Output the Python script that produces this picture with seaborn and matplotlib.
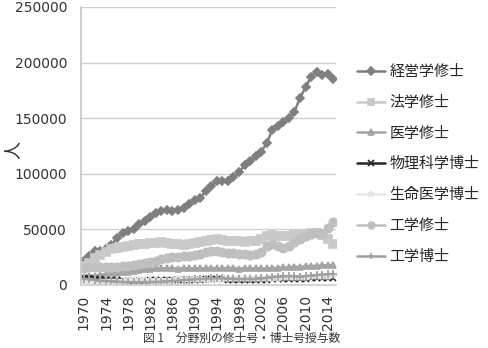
import matplotlib
matplotlib.use("Agg")
import matplotlib.pyplot as plt
import seaborn as sns
import pandas as pd

years = list(range(1970, 2016))

mba = [21325, 26490, 30509, 31007, 32820, 36315, 42510, 46505, 48484, 50484,
       55148, 57888, 61251, 64741, 66653, 67496, 66676, 67093, 69229, 73065,
       76676, 78255, 84517, 89425, 93285, 93540, 93554, 96923, 101652, 107477,
       111532, 115602, 119725, 127545, 139347, 142617, 146406, 150211, 155637, 168375,
       177684, 187213, 191571, 188625, 189328, 185222]
law = [17000, 20000, 24000, 27000, 30000, 32000, 33500, 34500, 35500, 36000,
       36500, 37000, 37500, 38000, 38500, 38000, 37000, 36500, 36000, 37000,
       38000, 39000, 40000, 40500, 41000, 40500, 40000, 40000, 39500, 39000,
       39500, 40000, 41000, 44000, 45000, 44500, 44000, 44500, 45000, 45500,
       46000, 46500, 47000, 45000, 41000, 37000]
med = [7500, 8000, 8500, 9000, 10000, 10500, 11000, 11500, 12000, 12500,
       13500, 14000, 14500, 15000, 15000, 15200, 15000, 14800, 15000, 15200,
       15000, 15000, 15200, 15300, 15000, 15000, 15200, 15000, 14800, 15000,
       15000, 15200, 15000, 15000, 15200, 15500, 15800, 16000, 16300, 16500,
       16800, 17000, 17300, 17600, 17800, 18000]
phys = [6500, 6000, 5500, 5000, 4600, 4300, 4100, 4000, 3900, 3900,
        4000, 4000, 4100, 4200, 4200, 4300, 4400, 4500, 4600, 4700,
        4800, 4900, 5000, 5100, 5100, 5000, 4900, 4800, 4700, 4600,
        4500, 4500, 4600, 4800, 5000, 5200, 5400, 5500, 5600, 5700,
        5800, 6000, 6200, 6300, 6500, 6700]
life = [3500, 3600, 3700, 3800, 3800, 3900, 4000, 4000, 4100, 4200,
        4300, 4400, 4500, 4600, 4700, 4800, 4900, 5000, 5100, 5200,
        5300, 5400, 5500, 5600, 5700, 5800, 5900, 6000, 6000, 6000,
        6100, 6200, 6300, 6400, 6500, 6600, 6800, 7000, 7200, 7400,
        7600, 7800, 8000, 8200, 8400, 8600]
eng_ms = [15500, 16000, 16500, 16500, 16000, 16000, 16500, 17000, 17500, 18000,
          19000, 20000, 21000, 22000, 23000, 24000, 25000, 25500, 26000, 26500,
          27000, 28000, 29500, 31000, 30500, 29500, 29000, 28500, 28000, 27500,
          27000, 28000, 30000, 35000, 37000, 35000, 33000, 35000, 39000, 41000,
          44000, 46000, 47000, 46000, 51000, 57000]
eng_phd = [5500, 5000, 4500, 4000, 3500, 3200, 3000, 2800, 2600, 2500,
           2500, 2600, 2700, 2800, 3000, 3300, 3600, 4000, 4500, 4900,
           5200, 5500, 5700, 5900, 6000, 6000, 5800, 5600, 5500, 5400,
           5500, 5600, 5900, 6400, 7000, 7500, 7800, 8000, 7800, 7600,
           8000, 8500, 9000, 9300, 9700, 10000]

series_names = ["経営学修士", "法学修士", "医学修士", "物理科学博士", "生命医学博士", "工学修士", "工学博士"]
series_values = [mba, law, med, phys, life, eng_ms, eng_phd]
colors = ["#7f7f7f", "#c9c9c9", "#a5a5a5", "#262626", "#e6e6e6", "#bfbfbf", "#a0a0a0"]
markers = ["D", "s", "^", "x", "*", "o", "+"]
msizes = [4.5, 6, 5, 5, 6, 6, 6]
xtick_years = list(range(1970, 2015, 4))

sns.set_theme(style="white")
plt.rcParams["font.family"] = ["Noto Sans CJK JP", "DejaVu Sans"]

fig = plt.figure(figsize=(4.89, 3.48), dpi=100)
ax = fig.add_axes([81 / 489, 63 / 348, 255 / 489, 278 / 348])

for name, vals, c, m, ms in zip(series_names, series_values, colors, markers, msizes):
    d = pd.DataFrame({"year": years, "value": vals})
    sns.lineplot(data=d, x="year", y="value", color=c, marker=m, markersize=ms,
                 markeredgecolor=c, markerfacecolor=c, markeredgewidth=1.2,
                 linewidth=1.8, label=name, ax=ax)

ax.set_xlim(1969.5, 2015.5)
ax.set_ylim(0, 250000)
ax.set_yticks(range(0, 250001, 50000))
ax.set_yticklabels([str(v) for v in range(0, 250001, 50000)], fontsize=10,
                   color="#333333", family="DejaVu Sans")
ax.set_xticks(xtick_years)
ax.set_xticklabels([str(y) for y in xtick_years], rotation=90, fontsize=10,
                   color="#333333", family="DejaVu Sans")
ax.tick_params(axis="y", length=0, pad=10)
ax.tick_params(axis="x", length=0, pad=7)
ax.yaxis.grid(True, color="#d0d0d0", linewidth=1)
ax.xaxis.grid(False)
for s in ["top", "right"]:
    ax.spines[s].set_visible(False)
ax.spines["left"].set_color("#c8c8c8")
ax.spines["bottom"].set_color("#d0d0d0")
ax.set_xlabel("")
ax.set_ylabel("人", fontsize=13, color="#333333")
ax.yaxis.set_label_coords(-0.235, 0.486)

handles, labels = ax.get_legend_handles_labels()
ax.legend(handles, labels, loc="upper left", bbox_to_anchor=(357 / 489, 1 - 65 / 348),
          bbox_transform=fig.transFigure, frameon=False, fontsize=10.8,
          handlelength=1.85, labelspacing=1.12, handletextpad=0.3, borderpad=0,
          borderaxespad=0, markerscale=0.8)

fig.text(143 / 489, 1 - 338 / 348, "図 1　分野別の修士号・博士号授与数", fontsize=8.5,
         color="#333333", va="center", ha="left")

fig.savefig("out.png", dpi=100)
